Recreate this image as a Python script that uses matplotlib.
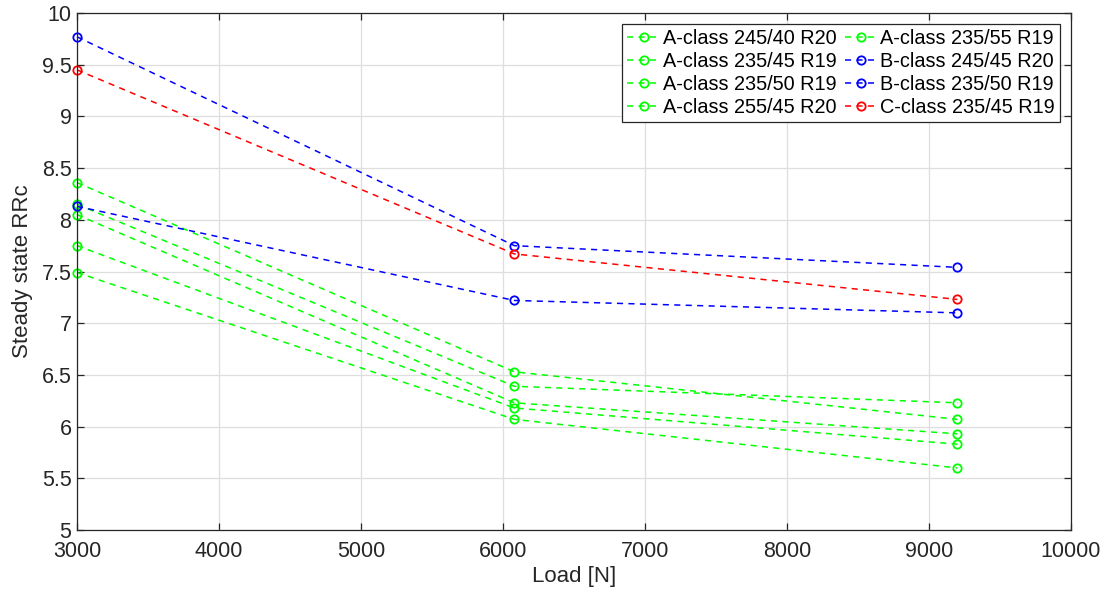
import matplotlib
matplotlib.use("Agg")
import matplotlib.pyplot as plt
import numpy as np

plt.rcParams['font.family'] = ['Liberation Sans', 'DejaVu Sans']

loads = [3000, 6080, 9200]
series_names = [
    "A-class 245/40 R20",
    "A-class 235/45 R19",
    "A-class 235/50 R19",
    "A-class 255/45 R20",
    "A-class 235/55 R19",
    "B-class 245/45 R20",
    "B-class 235/50 R19",
    "C-class 235/45 R19",
]
series_values = [
    [8.36, 6.53, 6.07],
    [8.15, 6.39, 6.23],
    [8.05, 6.23, 5.93],
    [7.75, 6.18, 5.83],
    [7.49, 6.07, 5.60],
    [9.77, 7.75, 7.54],
    [8.13, 7.22, 7.10],
    [9.45, 7.67, 7.23],
]
series_colors = ["#00ff00"] * 5 + ["#0000ff", "#0000ff", "#ff0000"]

x_ticks = [3000, 4000, 5000, 6000, 7000, 8000, 9000, 10000]
y_ticks = [5, 5.5, 6, 6.5, 7, 7.5, 8, 8.5, 9, 9.5, 10]
y_tick_labels = ["5", "5.5", "6", "6.5", "7", "7.5", "8", "8.5", "9", "9.5", "10"]

fig = plt.figure(figsize=(11.07, 5.94), dpi=100)
ax = fig.add_axes([77/1107, 1 - 530/594, (1071-77)/1107, (530-13)/594])

dark = (0.15, 0.15, 0.15)
for name, vals, col in zip(series_names, series_values, series_colors):
    ax.plot(loads, vals, linestyle=(0, (4.0, 3.5)), color=col, linewidth=1.1,
            marker='o', markersize=6, markerfacecolor='none',
            markeredgecolor=col, markeredgewidth=1.3, label=name, clip_on=False)

ax.set_xlim(3000, 10000)
ax.set_ylim(5, 10)
ax.set_xticks(x_ticks)
ax.set_yticks(y_ticks)
ax.set_yticklabels(y_tick_labels)
ax.grid(True, color=(0.87, 0.87, 0.87), linewidth=0.9)
ax.set_axisbelow(True)
for s in ax.spines.values():
    s.set_color(dark)
    s.set_linewidth(0.9)
ax.tick_params(direction='in', length=5, width=0.9, colors=dark,
               labelsize=15.5, top=True, right=True, pad=4)
ax.tick_params(axis='x', pad=8)
ax.set_xlabel("Load [N]", fontsize=16, color=dark, labelpad=3)
ax.set_ylabel("Steady state RRc", fontsize=16, color=dark, labelpad=6)

leg = ax.legend(loc='upper right', ncol=2, fontsize=14.3, frameon=True,
                fancybox=False, edgecolor=dark, framealpha=1,
                handlelength=1.7, handletextpad=0.1, columnspacing=0.4,
                labelspacing=0.2, borderpad=0.25, borderaxespad=0.55)
leg.get_frame().set_linewidth(0.9)

fig.savefig("out.png", dpi=100)
